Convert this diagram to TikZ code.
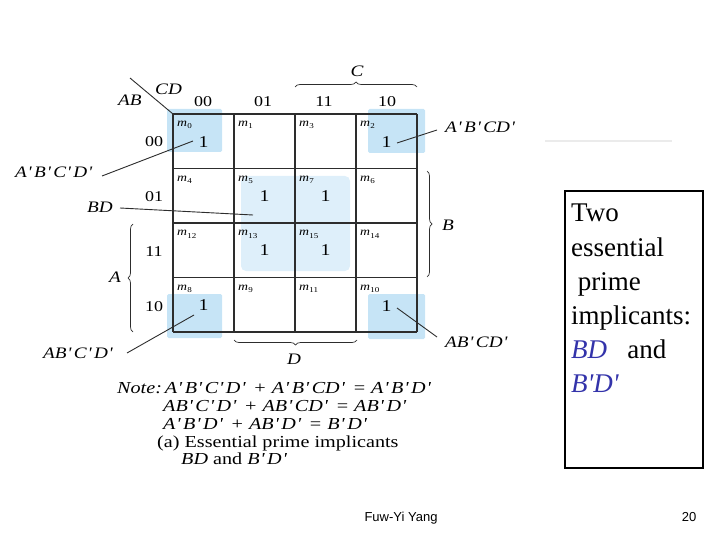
\documentclass[tikz,border=0pt]{standalone}
\usepackage{fontspec}
\setmainfont{Liberation Serif}
\newfontfamily\kfont[FakeStretch=1.2]{Liberation Serif}
\newfontfamily\boxfont{Liberation Serif}
\newfontfamily\footfont{Liberation Sans}
\usetikzlibrary{decorations.pathreplacing}
\definecolor{kblue}{RGB}{198,228,246}
\definecolor{kbluelt}{RGB}{222,239,250}
\definecolor{gridc}{RGB}{45,45,45}
\definecolor{bdblue}{RGB}{51,51,170}
\newcommand\pq{\kern0.05em'\kern0.15em}
\begin{document}
\begin{tikzpicture}[x=1pt,y=-1pt,
  shade/.style={fill=kblue, draw=none, rounded corners=1.5pt},
  gridline/.style={draw=gridc, line width=1.6pt},
  lab/.style={font=\kfont\fontsize{16}{18}\selectfont\itshape, inner sep=0},
  hdr/.style={font=\kfont\fontsize{15}{18}\selectfont, inner sep=0},
  one/.style={font=\kfont\fontsize{16.5}{18}\selectfont, inner sep=0},
  mlab/.style={font=\kfont\fontsize{11.5}{13}\selectfont, inner sep=0, anchor=base west},
  note/.style={font=\kfont\fontsize{16.8}{18}\selectfont, inner sep=0, anchor=base west},
  conn/.style={draw=gridc, line width=0.9pt},
  brc/.style={draw=gridc, line width=0.7pt, decorate, decoration={brace, amplitude=5pt}},
  boxtxt/.style={font=\boxfont\fontsize{27}{34}\selectfont, inner sep=0, anchor=base west}
]
\useasboundingbox (0,0) rectangle (720,540);

% shading
\fill[shade] (167,109) rectangle (222,152);
\fill[shade] (368,109) rectangle (425,153);
\fill[shade] (167,294) rectangle (222,338);
\fill[shade] (368,294) rectangle (425,339);
\fill[kbluelt, rounded corners=5pt] (241,176) rectangle (350,271);

% grid
\foreach \x in {173,234,295,356,417} \draw[gridline] (\x,114) -- (\x,332);
\foreach \y in {114,168.5,223,277.5,332} \draw[gridline] (173,\y) -- (417,\y);

% corner diagonal
\coordinate (dg1) at (130,78);
\coordinate (dg2) at (173,114);
\draw[conn] (dg1) -- (dg2);
\node[lab, anchor=base west] (cd) at (155,95) {CD};
\node[lab, anchor=base west] (ab) at (118,106) {AB};

% column headers
\node[hdr, anchor=base] (c00) at (203,107) {00};
\node[hdr, anchor=base] (c01) at (263,107) {01};
\node[hdr, anchor=base] (c11) at (324,107) {11};
\node[hdr, anchor=base] (c10) at (387,107) {10};
% row headers
\node[hdr, anchor=base] (r00) at (154,147) {00};
\node[hdr, anchor=base] (r01) at (154,202) {01};
\node[hdr, anchor=base] (r11) at (154,256) {11};
\node[hdr, anchor=base] (r10) at (154,311) {10};

% minterm labels
\foreach \n/\x/\y in {0/173/114,1/234/114,3/295/114,2/356/114,
                      4/173/168.5,5/234/168.5,7/295/168.5,6/356/168.5,
                      12/173/223,13/234/223,15/295/223,14/356/223,
                      8/173/277.5,9/234/277.5,11/295/277.5,10/356/277.5}
  \node[mlab] (m\n) at (\x+4,\y+13) {\textit{m}\kern0.3pt\raisebox{-2pt}{\fontsize{7.5}{8}\selectfont\n}};

% ones
\node[one] (o0) at (203.5,142) {1};
\node[one] (o2) at (386.5,142) {1};
\node[one] (o5) at (264.5,196) {1};
\node[one] (o7) at (325.5,196) {1};
\node[one] (o13) at (264.5,250.5) {1};
\node[one] (o15) at (325.5,250.5) {1};
\node[one] (o8) at (203.5,305) {1};
\node[one] (o10) at (386.5,306) {1};

% braces
\draw[brc] (295,87) -- (417,87);
\node[lab] (lc) at (357,71) {C};
\draw[brc] (427,171) -- (427,277);
\node[lab] (lb) at (448,225) {B};
\draw[brc] (133,332) -- (133,224);
\node[lab] (la) at (115,277) {A};
\draw[brc] (357,340) -- (234,340);
\node[lab] (ld) at (294,359) {D};

% labels and connectors
\node[lab, anchor=base west] (t1) at (15,178) {A\pq B\pq C\pq D\pq};
\node[lab, anchor=base west] (t2) at (445,133) {A\pq B\pq CD\pq};
\node[lab, anchor=base west] (t3) at (87,213) {BD};
\node[lab, anchor=base west] (t4) at (43,358) {AB\pq C\pq D\pq};
\node[lab, anchor=base west] (t5) at (445,347) {AB\pq CD\pq};

\coordinate (e1a) at (193,141); \coordinate (e1b) at (102,176);
\coordinate (e2a) at (397,143); \coordinate (e2b) at (437,130);
\coordinate (e3a) at (120,208); \coordinate (e3b) at (253,215);
\coordinate (e4a) at (194,315); \coordinate (e4b) at (127,353);
\coordinate (e5a) at (397,308); \coordinate (e5b) at (437,337);
\draw[conn] (e1a) -- (e1b);
\draw[conn] (e2a) -- (e2b);
\draw[conn] (e3a) -- (e3b);
\draw[conn] (e4a) -- (e4b);
\draw[conn] (e5a) -- (e5b);

% note
\node[note] (n1) at (117,393) {\textit{Note:\,A\pq B\pq C\pq D\pq\ + A\pq B\pq CD\pq\ = A\pq B\pq D\pq}};
\node[note] (n2) at (163,411) {\textit{AB\pq C\pq D\pq\ + AB\pq CD\pq\ = AB\pq D\pq}};
\node[note] (n3) at (163,429) {\textit{A\pq B\pq D\pq\ + AB\pq D\pq\ = B\pq D\pq}};
\node[note] (n4) at (157,447) {(a) Essential prime implicants};
\node[note] (n5) at (181,464) {\textit{BD} and \textit{B\pq D\pq}};

% faint line
\coordinate (fl1) at (545,141); \coordinate (fl2) at (672,141);
\draw[black!8, line width=1.5pt] (fl1) -- (fl2);

% right box
\draw[black, line width=2.5pt] (565,191) rectangle (703,468);
\node[boxtxt] (b1) at (571,222) {Two};
\node[boxtxt] (b2) at (571,256) {essential};
\node[boxtxt] (b3) at (571,290) {\ prime};
\node[boxtxt] (b4) at (571,324) {implicants:};
\node[boxtxt] (b5) at (571,358) {\textcolor{bdblue}{\textit{BD}}\ \ \ and};
\node[boxtxt] (b6) at (571,392) {\textcolor{bdblue}{\textit{B'D'}}};

% footer
\node[font=\footfont\fontsize{13}{15}\selectfont, inner sep=0, anchor=base] (f1) at (401,521) {Fuw-Yi Yang};
\node[font=\footfont\fontsize{13}{15}\selectfont, inner sep=0, anchor=base] (f2) at (689,521) {20};
\end{tikzpicture}
\end{document}
